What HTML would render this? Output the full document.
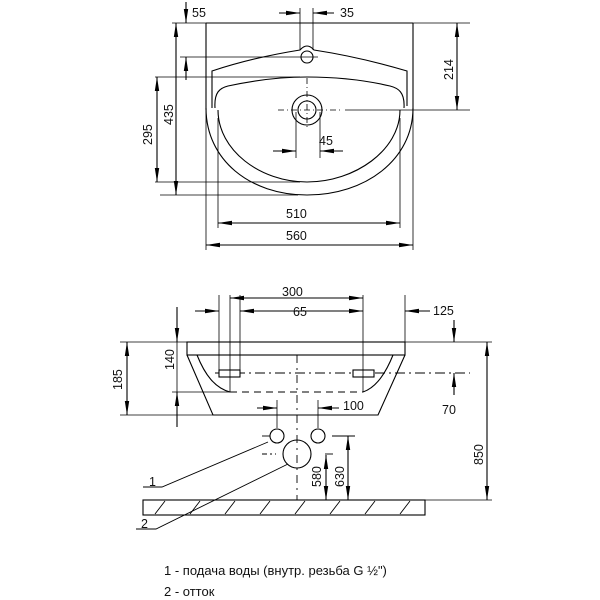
<!DOCTYPE html>
<html><head><meta charset="utf-8"><style>
html,body{margin:0;padding:0;background:#fff;width:600px;height:600px;overflow:hidden}
svg text{font-family:"Liberation Sans",sans-serif;fill:#111}
</style></head><body>
<svg width="600" height="600" viewBox="0 0 600 600" xmlns="http://www.w3.org/2000/svg">
<defs>
<marker id="a" viewBox="0 0 14 6" refX="14" refY="3" markerWidth="14" markerHeight="6" orient="auto-start-reverse" markerUnits="userSpaceOnUse"><path d="M0,0.8 L14,3 L0,5.2z" fill="#000"/></marker>
</defs>
<g stroke="#000" stroke-width="1.1" fill="none">
<!-- TOP VIEW -->
<line x1="206" y1="23" x2="413" y2="23"/>
<line x1="206" y1="23" x2="206" y2="110"/>
<line x1="413" y1="23" x2="413" y2="110"/>
<line x1="206" y1="110" x2="206" y2="250" stroke-width="0.8"/>
<line x1="413" y1="110" x2="413" y2="250" stroke-width="0.8"/>
<line x1="218" y1="118" x2="218" y2="228" stroke-width="0.8"/>
<line x1="400" y1="118" x2="400" y2="228" stroke-width="0.8"/>
<path d="M206,108 C206,160 250,195 307,195 C365,195 413,160 413,108"/>
<path d="M218,110 C218,150 260,182 307,182 C355,182 400,150 400,110"/>
<path d="M212,108 L212,71 C245,60 275,54 300,50 Q307,42 314,50 C340,54 370,60 407,71 L407,106"/>
<path d="M215,108 C214,92 220,88 228,86 C260,79 285,77 307,77 C330,77 360,79 390,86 C398,88 405,92 404,108"/>
<circle cx="307" cy="57" r="6"/>
<circle cx="307" cy="110" r="15"/>
<circle cx="307" cy="110" r="9"/>
<line x1="278" y1="110" x2="340" y2="110" stroke-dasharray="6,3,1,3" stroke-width="0.8"/>
<line x1="307" y1="78" x2="307" y2="128" stroke-dasharray="6,3,1,3" stroke-width="0.8"/>
<line x1="345" y1="110" x2="470" y2="110" stroke-width="0.8"/>
<line x1="180" y1="57" x2="318" y2="57" stroke-width="0.8"/>
<line x1="155" y1="77" x2="300" y2="77" stroke-width="0.8"/>
<line x1="155" y1="182" x2="300" y2="182" stroke-width="0.8"/>
<line x1="160" y1="195" x2="298" y2="195" stroke-width="0.8"/>
<line x1="413" y1="23" x2="470" y2="23" stroke-width="0.8"/>
<line x1="172" y1="23" x2="206" y2="23" stroke-width="0.8"/>
<line x1="300" y1="8" x2="300" y2="50" stroke-width="0.8"/>
<line x1="313" y1="8" x2="313" y2="50" stroke-width="0.8"/>
<line x1="296" y1="112" x2="296" y2="158" stroke-width="0.8"/>
<line x1="320" y1="112" x2="320" y2="158" stroke-width="0.8"/>
<line x1="176" y1="23" x2="176" y2="195" marker-start="url(#a)" marker-end="url(#a)"/>
<line x1="157" y1="77" x2="157" y2="182" marker-start="url(#a)" marker-end="url(#a)"/>
<line x1="457" y1="23" x2="457" y2="110" marker-start="url(#a)" marker-end="url(#a)"/>
<line x1="218" y1="223" x2="400" y2="223" marker-start="url(#a)" marker-end="url(#a)"/>
<line x1="206" y1="245" x2="413" y2="245" marker-start="url(#a)" marker-end="url(#a)"/>
<line x1="186" y1="2" x2="186" y2="23" marker-end="url(#a)"/>
<line x1="186" y1="57" x2="186" y2="80" marker-start="url(#a)"/>
<line x1="279" y1="13" x2="300" y2="13" marker-end="url(#a)"/>
<line x1="334" y1="13" x2="313" y2="13" marker-end="url(#a)"/>
<line x1="273" y1="151" x2="296" y2="151" marker-end="url(#a)"/>
<line x1="343" y1="151" x2="320" y2="151" marker-end="url(#a)"/>

<!-- SIDE VIEW -->
<rect x="187" y="342" width="218" height="13"/>
<path d="M187,355 L213,415 L378,415 L405,355"/>
<path d="M197,355 C205,375 215,388 230,392"/>
<path d="M393,355 C385,375 375,388 363,392"/>
<line x1="230" y1="392" x2="363" y2="392" stroke-dasharray="7,5"/>
<line x1="215" y1="373" x2="470" y2="373" stroke-dasharray="10,4,2,4" stroke-width="0.9"/>
<line x1="297" y1="355" x2="297" y2="500" stroke-dasharray="8,5,2,5" stroke-width="0.9"/>
<rect x="219" y="370" width="21" height="7" fill="#fff"/>
<rect x="353" y="370" width="21" height="7" fill="#fff"/>
<line x1="219" y1="295" x2="219" y2="370" stroke-width="0.8"/>
<line x1="240" y1="295" x2="240" y2="370" stroke-width="0.8"/>
<line x1="230" y1="295" x2="230" y2="392" stroke-width="0.8"/>
<line x1="363" y1="295" x2="363" y2="392" stroke-width="0.8"/>
<line x1="405" y1="295" x2="405" y2="342" stroke-width="0.8"/>
<line x1="120" y1="342" x2="187" y2="342" stroke-width="0.8"/>
<line x1="405" y1="342" x2="492" y2="342" stroke-width="0.8"/>
<line x1="120" y1="415" x2="213" y2="415" stroke-width="0.8"/>
<line x1="172" y1="392" x2="230" y2="392" stroke-width="0.8"/>
<line x1="425" y1="500" x2="492" y2="500" stroke-width="0.8"/>
<line x1="230" y1="298" x2="363" y2="298" marker-start="url(#a)" marker-end="url(#a)"/>
<line x1="195" y1="311" x2="219" y2="311" marker-end="url(#a)"/>
<line x1="240" y1="311" x2="363" y2="311" marker-start="url(#a)" marker-end="url(#a)"/>
<line x1="430" y1="311" x2="405" y2="311" marker-end="url(#a)"/>
<line x1="127" y1="342" x2="127" y2="415" marker-start="url(#a)" marker-end="url(#a)"/>
<line x1="177" y1="307" x2="177" y2="342" marker-end="url(#a)"/>
<line x1="177" y1="427" x2="177" y2="392" marker-end="url(#a)"/>
<line x1="177" y1="342" x2="177" y2="392" stroke-width="0.8"/>
<line x1="454" y1="320" x2="454" y2="342" marker-end="url(#a)"/>
<line x1="454" y1="395" x2="454" y2="373" marker-end="url(#a)"/>
<line x1="487" y1="342" x2="487" y2="500" marker-start="url(#a)" marker-end="url(#a)"/>
<line x1="257" y1="408" x2="277" y2="408" marker-end="url(#a)"/>
<line x1="339" y1="408" x2="318" y2="408" marker-end="url(#a)"/>
<line x1="277" y1="400" x2="277" y2="428" stroke-width="0.8"/>
<line x1="318" y1="400" x2="318" y2="428" stroke-width="0.8"/>
<circle cx="277" cy="436" r="7"/>
<circle cx="318" cy="436" r="7"/>
<circle cx="297" cy="454" r="14"/>
<line x1="262" y1="436" x2="270" y2="436" stroke-width="0.9"/>
<line x1="332" y1="436" x2="355" y2="436" stroke-width="0.9"/>
<line x1="262" y1="454" x2="276" y2="454" stroke-dasharray="5,3,2,3" stroke-width="0.9"/>
<line x1="325" y1="454" x2="333" y2="454" stroke-width="0.9"/>
<line x1="348" y1="436" x2="348" y2="500" marker-start="url(#a)" marker-end="url(#a)"/>
<line x1="326" y1="455" x2="326" y2="500" marker-start="url(#a)" marker-end="url(#a)"/>
<rect x="143" y="500" width="282" height="15"/>
<g stroke-width="0.9">
<line x1="155" y1="514" x2="165" y2="501"/><line x1="190" y1="514" x2="200" y2="501"/><line x1="225" y1="514" x2="235" y2="501"/><line x1="260" y1="514" x2="270" y2="501"/><line x1="295" y1="514" x2="305" y2="501"/><line x1="330" y1="514" x2="340" y2="501"/><line x1="365" y1="514" x2="375" y2="501"/><line x1="400" y1="514" x2="410" y2="501"/>
</g>
<path d="M143,487 L162,487 L268,442" stroke-width="0.9"/>
<path d="M136,529 L156,529 L288,464" stroke-width="0.9"/>
</g>
<g font-size="12.5">
<text x="192" y="17">55</text>
<text x="340" y="17">35</text>
<text x="319" y="145">45</text>
<text x="286" y="218">510</text>
<text x="286" y="240">560</text>
<text transform="translate(453,80) rotate(-90)">214</text>
<text transform="translate(173,125) rotate(-90)">435</text>
<text transform="translate(152,145) rotate(-90)">295</text>
<text x="282" y="296">300</text>
<text x="293" y="316">65</text>
<text x="433" y="315">125</text>
<text transform="translate(122,390) rotate(-90)">185</text>
<text transform="translate(174,370) rotate(-90)">140</text>
<text x="442" y="414">70</text>
<text x="343" y="410">100</text>
<text transform="translate(483,465) rotate(-90)">850</text>
<text transform="translate(344,487) rotate(-90)">630</text>
<text transform="translate(321,487) rotate(-90)">580</text>
<text x="149" y="486">1</text>
<text x="141" y="528">2</text>
<text x="164" y="575" font-size="13">1 - подача воды (внутр. резьба G ½")</text>
<text x="164" y="596" font-size="13">2 - отток</text>
</g>
</svg>
</body></html>
